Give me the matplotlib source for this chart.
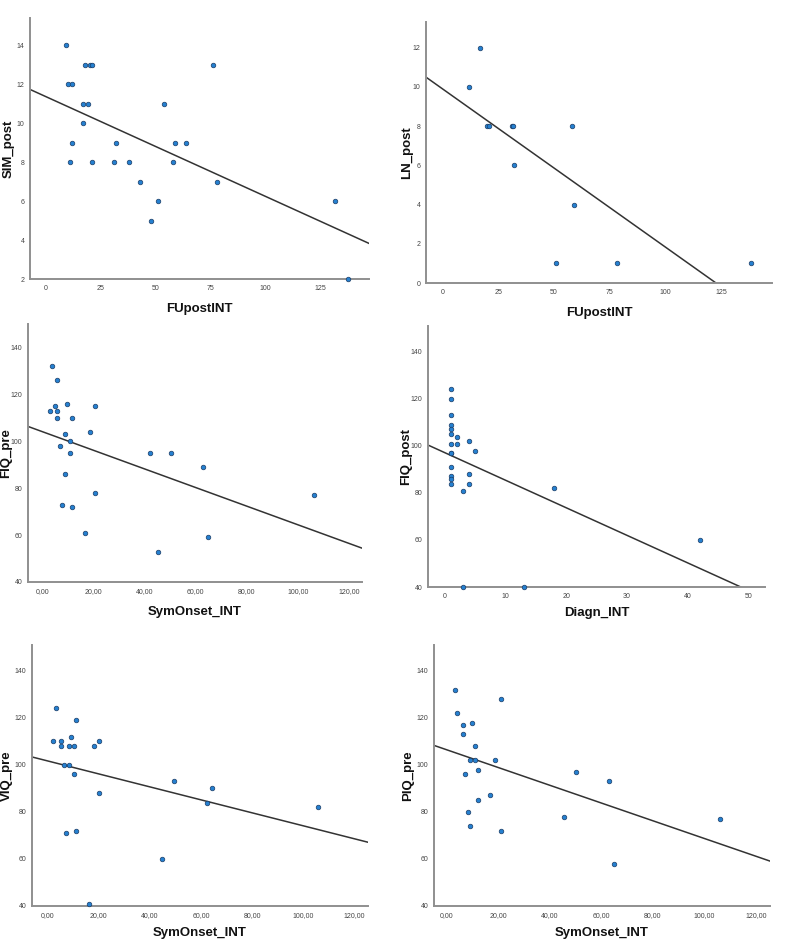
import matplotlib
matplotlib.use("Agg")
from matplotlib import pyplot as plt
from matplotlib.ticker import FuncFormatter

plt.rcParams["font.family"] = ["Liberation Sans", "DejaVu Sans"]

# Panel 1: SIM_post vs FUpostINT
sim_x = [9, 10, 12, 18, 20, 21, 17, 19, 17, 12, 11, 21, 31, 32, 38, 43, 48, 51, 54, 58, 59, 64, 76, 78, 132, 138]
sim_y = [14, 12, 12, 13, 13, 13, 11, 11, 10, 9, 8, 8, 8, 9, 8, 7, 5, 6, 11, 8, 9, 9, 13, 7, 6, 2]
sim_fit = (11.36, -0.0511)

# Panel 2: LN_post vs FUpostINT
ln_x = [17, 12, 20, 21, 31, 31.5, 32, 58, 59, 51, 78, 138]
ln_y = [12, 10, 8, 8, 8, 8, 6, 8, 4, 1, 1, 1]
ln_fit = (9.9, -0.0808)

# Panel 3: FIQ_pre vs SymOnset_INT
fiqpre_x = [3.9, 5.9, 2.9, 4.9, 5.9, 5.9, 9.8, 11.7, 20.7, 8.9, 18.6, 10.8, 6.9, 10.8, 8.9,
            20.7, 7.8, 11.7, 16.8, 42.3, 50.2, 63, 45.3, 64.9, 106.5]
fiqpre_y = [132, 126, 113, 115, 113, 110, 116, 110, 115, 103, 104, 100, 98, 95, 86,
            78, 73, 72, 61, 95, 95, 89, 53, 59, 77]
fiqpre_fit = (104.1, -0.397)

# Panel 4: FIQ_post vs Diagn_INT
fiqpost_x = [1, 1, 1, 1, 1, 1, 1, 1, 1, 1, 1, 1, 1, 2, 2, 4, 4, 4, 5, 3, 3, 13, 18, 42]
fiqpost_y = [124, 120, 113, 109, 107, 105, 101, 97, 97, 91, 87, 86, 84, 104, 101, 102, 88, 84, 98, 81, 40, 40, 82, 60]
fiqpost_fit = (97.2, -1.174)

# Panel 5: VIQ_pre vs SymOnset_INT
viq_x = [3.3, 2.2, 5.2, 5.2, 9.3, 8.2, 10.3, 11.2, 6.3, 8.4, 10.3, 18.1, 20.1, 20.1, 7.3,
         11.2, 16, 44.7, 49.6, 62.4, 64.4, 105.8]
viq_y = [124, 110, 110, 108, 112, 108, 108, 119, 100, 100, 96, 108, 110, 88, 71,
         72, 41, 60, 93, 84, 90, 82]
viq_fit = (101.7, -0.276)

# Panel 6: PIQ_pre vs SymOnset_INT
piq_x = [3.2, 20.9, 4.1, 6.2, 6.2, 10, 11.1, 9.1, 11.1, 12, 18.9, 7.1, 16.9, 12, 8.1,
         9.1, 20.9, 45.4, 50.2, 63, 64.8, 106]
piq_y = [132, 128, 122, 117, 113, 118, 108, 102, 102, 98, 102, 96, 87, 85, 80,
         74, 72, 78, 97, 93, 58, 77]
piq_fit = (106.45, -0.3776)

W, H = 790, 948
fig = plt.figure(figsize=(W / 100, H / 100), dpi=100)
fig.patch.set_facecolor("white")


def comma_fmt(v, pos):
    return f"{v:.2f}".replace(".", ",")


def panel(box, x, y, fit, xlim, ylim, xticks, yticks, xlabel, ylabel,
          ylab_px, xlab_gap, comma=False):
    left, top, right, bottom = box
    w, h = right - left, bottom - top
    ax = fig.add_axes([left / W, 1 - bottom / H, w / W, h / H])
    for s in ["top", "right"]:
        ax.spines[s].set_visible(False)
    for s in ["left", "bottom"]:
        ax.spines[s].set_color("#8f8f8f")
        ax.spines[s].set_linewidth(1.4)
    ax.set_xlim(*xlim)
    ax.set_ylim(*ylim)
    ax.set_xticks(xticks)
    ax.set_yticks(yticks)
    if comma:
        ax.xaxis.set_major_formatter(FuncFormatter(comma_fmt))
    ax.tick_params(length=0, labelsize=5, labelcolor="#444444", pad=4)
    for lab in ax.get_xticklabels() + ax.get_yticklabels():
        lab.set_fontfamily(["Liberation Sans Narrow", "Liberation Sans"])
    ax.scatter(x, y, s=11, color="#2580d0", edgecolors="#1a3c66", linewidths=0.5,
               zorder=3, clip_on=False)
    xs = [xlim[0], xlim[1]]
    ax.plot(xs, [fit[0] + fit[1] * v for v in xs], color="#333333", lw=1.1, zorder=2)
    ax.set_xlabel(xlabel, fontsize=9.5, fontweight="bold", color="#111111")
    ax.set_ylabel(ylabel, fontsize=9.5, fontweight="bold", color="#111111")
    ax.yaxis.set_label_coords((ylab_px - left) / w, 0.5)
    ax.xaxis.set_label_coords(0.5, -xlab_gap / h)
    return ax


panel((30, 18, 369, 279), sim_x, sim_y, sim_fit, (-7.3, 147.4), (2, 15.4),
      [0, 25, 50, 75, 100, 125], range(2, 15, 2), "FUpostINT", "SIM_post", 15, 24)
panel((426, 22, 772, 283), ln_x, ln_y, ln_fit, (-7.3, 147.6), (0, 13.3),
      [0, 25, 50, 75, 100, 125], range(0, 13, 2), "FUpostINT", "LN_post", 413, 24)
panel((28, 324, 362, 582), fiqpre_x, fiqpre_y, fiqpre_fit, (-5.6, 125.1), (40, 150),
      range(0, 121, 20), range(40, 141, 20), "SymOnset_INT", "FIQ_pre", 12, 24, comma=True)
panel((428, 326, 765, 587), fiqpost_x, fiqpost_y, fiqpost_fit, (-2.7, 52.7), (40, 151),
      range(0, 51, 10), range(40, 141, 20), "Diagn_INT", "FIQ_post", 412, 20)
panel((32, 645, 368, 906), viq_x, viq_y, viq_fit, (-6.1, 125.3), (40, 151),
      range(0, 121, 20), range(40, 141, 20), "SymOnset_INT", "VIQ_pre", 13, 21, comma=True)
panel((434, 645, 770, 906), piq_x, piq_y, piq_fit, (-4.9, 125.4), (40, 151),
      range(0, 121, 20), range(40, 141, 20), "SymOnset_INT", "PIQ_pre", 414, 21, comma=True)

fig.savefig("out.png", dpi=100)
